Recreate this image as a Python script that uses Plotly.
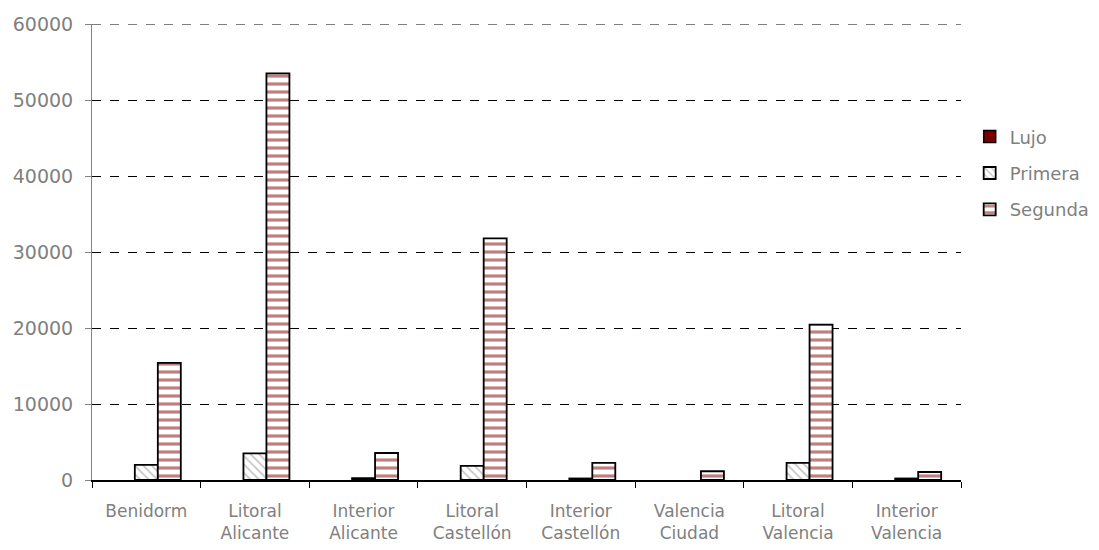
import plotly.graph_objects as go

# categories and series
zonas = ["Benidorm", "Litoral<br>Alicante", "Interior<br>Alicante", "Litoral<br>Castellón",
         "Interior<br>Castellón", "Valencia<br>Ciudad", "Litoral<br>Valencia", "Interior<br>Valencia"]
lujo = [None, None, None, None, None, None, None, None]
primera = [2000, 3500, 250, 1850, 200, None, 2250, 200]
segunda = [15400, 53500, 3550, 31800, 2250, 1150, 20450, 1050]
y_ticks = [0, 10000, 20000, 30000, 40000, 50000, 60000]

grey = "#808080"
font_name = "DejaVu Sans"

fig = go.Figure()

fig.add_trace(go.Bar(x=zonas, y=lujo, name="Lujo", legendgroup="a",
                     marker=dict(color="#7a0000", line=dict(color="black", width=1.5))))
fig.add_trace(go.Bar(x=zonas, y=primera, name="Primera", legendgroup="b",
                     marker=dict(color="white", line=dict(color="black", width=1.8),
                                 pattern=dict(shape="\\", fgcolor="#8c8c8c", bgcolor="white",
                                              size=6, solidity=0.3))))
fig.add_trace(go.Bar(x=zonas, y=segunda, name="Segunda", legendgroup="c",
                     marker=dict(color="white", line=dict(color="black", width=1.8),
                                 pattern=dict(shape="-", fgcolor="#7f0000", bgcolor="white",
                                              size=8, solidity=0.4))))

# page body adds 8px offset, margins compensate
fig.update_layout(
    width=1099, height=550,
    margin=dict(l=84, r=146, t=16, b=78),
    plot_bgcolor="white", paper_bgcolor="white",
    barmode="group", bargap=0.365, bargroupgap=0,
    font=dict(family=font_name, color=grey, size=16),
    legend=dict(x=1.01, y=0.793, xanchor="left", yanchor="top",
                font=dict(size=18, color=grey), tracegroupgap=10,
                itemwidth=30),
)

# y axis: dashed black gridlines, grey axis line
fig.update_yaxes(range=[0, 60000], tickvals=y_ticks,
                 tickformat="d", showgrid=True, gridcolor="black",
                 griddash="dash", gridwidth=1, showline=True, linecolor=grey,
                 ticks="outside", ticklen=6, tickcolor=grey, ticklabelstandoff=8,
                 tickfont=dict(size=19, color=grey), zeroline=False, automargin=False)

# top gridline gets dropped at the range edge, draw it as a shape
fig.add_shape(type="line", xref="paper", yref="y", x0=0, x1=1,
              y0=y_ticks[-1], y1=y_ticks[-1], line=dict(color="black", width=1, dash="dash"))

# x axis: black base line, ticks between categories
fig.update_xaxes(showline=True, linecolor="black", linewidth=1.5,
                 ticks="outside", tickson="boundaries", ticklen=6, tickcolor="black",
                 ticklabelstandoff=15, automargin=False,
                 tickfont=dict(size=17, color=grey), showgrid=False)

fig.write_html("out.html")
